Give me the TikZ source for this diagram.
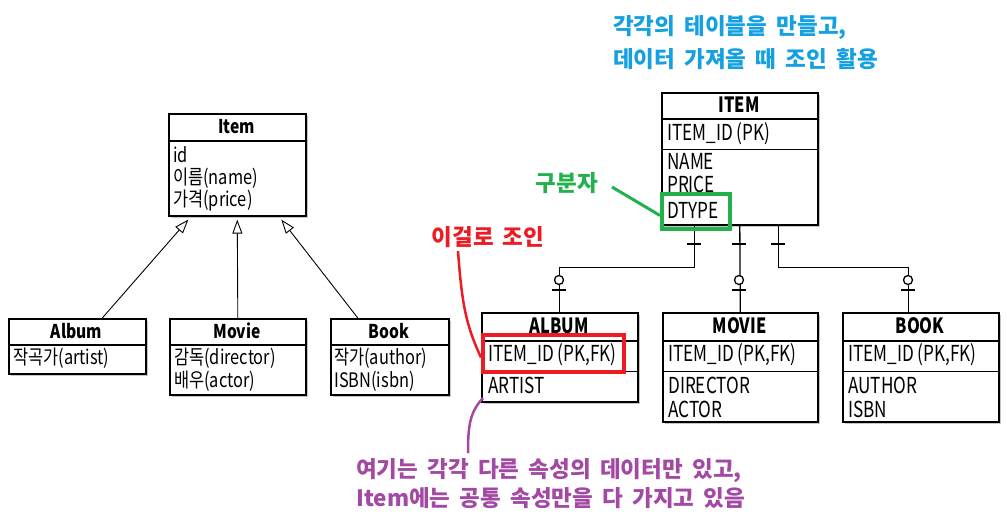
\documentclass[tikz,border=0pt]{standalone}
\usepackage{fontspec}
\setmainfont{Noto Sans CJK KR}
\newfontfamily\boxfont[FakeStretch=0.82]{Noto Sans CJK KR}
\newfontfamily\erfont[FakeStretch=0.78]{Noto Sans CJK KR}
\newfontfamily\notefont[WordSpace=1.8]{Noto Sans CJK KR}
\usetikzlibrary{arrows.meta,shadows}
\definecolor{noteblue}{RGB}{20,160,225}
\definecolor{notegreen}{RGB}{34,177,76}
\definecolor{notered}{RGB}{237,28,36}
\definecolor{notepurple}{RGB}{163,73,164}
\begin{document}
\begin{tikzpicture}[x=1pt,y=-1pt,
  box/.style={draw=black, line width=1.6pt, fill=white, inner sep=0pt, anchor=north west,
    drop shadow={shadow xshift=2.5pt, shadow yshift=-2.5pt, fill=black!45, opacity=0.5}},
  divthick/.style={line width=1.6pt},
  divthin/.style={line width=1pt},
  umlhd/.style={inner sep=0pt, font=\boxfont\bfseries\fontsize{19}{19}\selectfont},
  umltx/.style={anchor=west, inner sep=0pt, font=\boxfont\fontsize{20}{20}\selectfont},
  erhd/.style={inner sep=0pt, font=\erfont\bfseries\fontsize{21}{21}\selectfont},
  ertx/.style={anchor=west, inner sep=0pt, font=\erfont\fontsize{22}{22}\selectfont},
  inh/.style={line width=0.9pt, -{Triangle[open, length=14pt, width=10pt, line width=0.9pt]}},
  rel/.style={line width=1.3pt},
  tickline/.style={line width=1.3pt},
  note/.style={inner sep=0pt, font=\notefont\bfseries\fontsize{22.5}{22.5}\selectfont}
]
\useasboundingbox (0,0) rectangle (1007,523);

% ---------------- UML (left) ----------------
\node[box, minimum width=137, minimum height=102] (item) at (168,113) {};
\draw[divthick] (168,141) -- (305,141);
\node[umlhd] (itemh) at (236.5,127) {Item};
\node[umltx] (itid) at (173,155) {id};
\node[umltx] (itname) at (173,178) {이름(name)};
\node[umltx] (itprice) at (173,201) {가격(price)};

\node[box, minimum width=137, minimum height=55] (album) at (8,318) {};
\draw[divthick] (8,345) -- (145,345);
\node[umlhd] (albumh) at (76.5,331) {Album};
\node[umltx] (albumt) at (13,358) {작곡가(artist)};

\node[box, minimum width=136, minimum height=76] (movie) at (169,318) {};
\draw[divthick] (169,345) -- (305,345);
\node[umlhd] (movieh) at (237,331) {Movie};
\node[umltx] (moviet1) at (174,358) {감독(director)};
\node[umltx] (moviet2) at (174,381) {배우(actor)};

\node[box, minimum width=118, minimum height=76] (book) at (330,318) {};
\draw[divthick] (330,345) -- (448,345);
\node[umlhd] (bookh) at (389,331) {Book};
\node[umltx] (bookt1) at (334,358) {작가(author)};
\node[umltx] (bookt2) at (334,381) {ISBN(isbn)};

\draw[inh] ([xshift=25]album.north) -- ([xshift=-49,yshift=-3]item.south);
\draw[inh] (movie.north) -- ([yshift=-3]item.south);
\draw[inh] ([xshift=-32]book.north) -- ([xshift=44,yshift=-3]item.south);

% ---------------- ER (right) ----------------
\node[box, minimum width=156, minimum height=132] (itemer) at (661,92) {};
\draw[divthick] (661,119) -- (817,119);
\draw[divthin] (661,149) -- (817,149);
\node[erhd] (itemerh) at (739,105) {ITEM};
\node[ertx] (itemerid) at (667,134) {ITEM\_ID (PK)};
\node[ertx] (itemername) at (667,161) {NAME};
\node[ertx] (itemerprice) at (667,184) {PRICE};
\node[ertx] (itemerdtype) at (667,210) {DTYPE};

\node[box, minimum width=156, minimum height=89] (albumer) at (481,312) {};
\draw[divthick] (481,341) -- (637,341);
\draw[divthin] (481,371) -- (637,371);
\node[erhd] (albumerh) at (559,326) {ALBUM};
\node[ertx] (albumerid) at (488,355) {ITEM\_ID (PK,FK)};
\node[ertx] (albumera) at (488,385) {ARTIST};

\node[box, minimum width=155, minimum height=109] (movieer) at (662,312) {};
\draw[divthick] (662,341) -- (817,341);
\draw[divthin] (662,371) -- (817,371);
\node[erhd] (movieerh) at (739.5,326) {MOVIE};
\node[ertx] (movieerid) at (668,355) {ITEM\_ID (PK,FK)};
\node[ertx] (movieer1) at (668,385) {DIRECTOR};
\node[ertx] (movieer2) at (668,409) {ACTOR};

\node[box, minimum width=156, minimum height=109] (booker) at (842,312) {};
\draw[divthick] (842,341) -- (998,341);
\draw[divthin] (842,371) -- (998,371);
\node[erhd] (bookerh) at (920,326) {BOOK};
\node[ertx] (bookerid) at (848,355) {ITEM\_ID (PK,FK)};
\node[ertx] (booker1) at (848,385) {AUTHOR};
\node[ertx] (booker2) at (848,409) {ISBN};

% relationships
\draw[rel] ([xshift=-45]itemer.south) -- ++(0,42) -| (albumer.north);
\draw[rel] (itemer.south) -- (movieer.north);
\draw[rel] ([xshift=39]itemer.south) -- ++(0,42) -| ([xshift=-12]booker.north);
% one-side bars at ITEM
\foreach \x in {694,739,778} \draw[tickline] (\x-7,244) -- (\x+7,244);
% zero-or-one markers at child side
\foreach \x in {559,739,908} {
  \draw[tickline, fill=white] (\x,280) circle (4.5);
  \draw[tickline] (\x-7,290) -- (\x+7,290);
}

% ---------------- annotations ----------------
\node[note, text=noteblue, anchor=west, align=left, font=\notefont\bfseries\fontsize{22.5}{33}\selectfont] (bluenote) at (613,43)
  {각각의 테이블을 만들고,\\데이터 가져올 때 조인 활용};

\node[note, text=notegreen] (greennote) at (567,183) {구분자};
\node[draw=notegreen, line width=4pt, minimum width=68, minimum height=35, anchor=north west, inner sep=0pt] (greenbox) at (660,192) {};
\coordinate (greenstart) at (612,187);
\draw[notegreen, line width=3pt] (greenstart) -- ([yshift=-4]greenbox.west);

\node[note, text=notered] (rednote) at (488,237) {이걸로 조인};
\node[draw=notered, line width=4pt, minimum width=141, minimum height=37, anchor=north west, inner sep=0pt] (redbox) at (481,333) {};
\coordinate (redstart) at (458,251);
\draw[notered, line width=2.5pt] (redstart) .. controls (462,305) and (466,325) .. ([yshift=-4]redbox.west);

\node[note, text=notepurple, anchor=west, align=left, font=\notefont\bfseries\fontsize{22.5}{29}\selectfont] (purplenote) at (356,483.5)
  {여기는 각각 다른 속성의 데이터만 있고,\\Item에는 공통 속성만을 다 가지고 있음};
\coordinate (purplestart) at (483,398);
\coordinate (purpleend) at (468,453);
\draw[notepurple, line width=2.5pt] (purplestart) .. controls (470,412) and (468,425) .. (purpleend);
\end{tikzpicture}
\end{document}
